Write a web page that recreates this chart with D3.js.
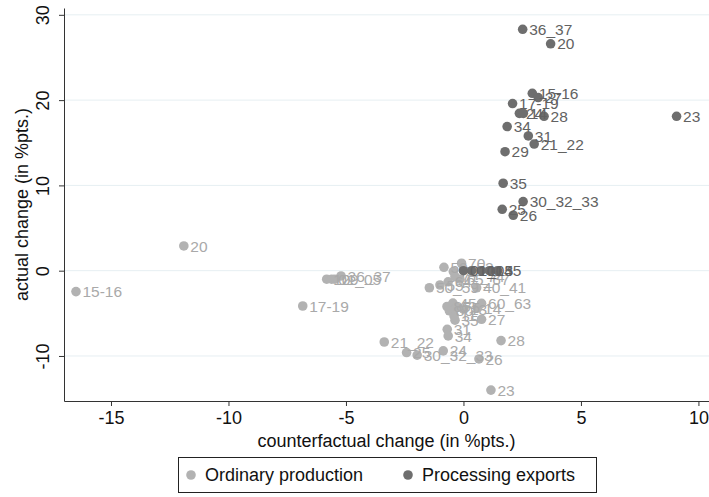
<!DOCTYPE html>
<html>
<head>
<meta charset="utf-8">
<script src="https://cdn.jsdelivr.net/npm/d3@7"></script>
<style>
  body { margin: 0; background: #fff; }
  svg text { font-family: "Liberation Sans", Arial, sans-serif; }
</style>
</head>
<body>
<div id="chart"></div>
<script>
// ordinary production (light grey)
const ordLabels = ["15-16", "20", "17-19", "10", "01_05", "29", "36_37", "21_22", "25", "30_32_33",
  "24", "26", "23", "28", "31", "34", "27", "60_63", "40_41", "70",
  "50_52", "72", "65_67", "50_59", "55", "64", "71_74", "45", "85", "80",
  "75", "13", "11", "35", "14"];
const ordX = [-16.49, -11.9, -6.84, -5.82, -5.61, -5.47, -5.21, -3.37, -2.42, -1.97,
  -0.86, 0.66, 1.17, 1.6, -0.69, -0.65, 0.77, 0.77, 0.56, -0.08,
  -0.83, -0.43, -0.15, -1.45, -1.0, -0.65, -0.36, -0.45, -0.7, -0.6,
  -0.3, 0.0, -0.4, -0.36, 0.6];
const ordY = [-2.45, 2.9, -4.14, -1.0, -1.0, -1.0, -0.62, -8.36, -9.6, -9.9,
  -9.4, -10.35, -14.0, -8.2, -6.87, -7.65, -5.7, -3.83, -2.0, 0.87,
  0.4, -0.1, -1.0, -2.0, -1.68, -1.3, -0.7, -3.8, -4.2, -4.7,
  -4.3, -4.5, -5.3, -5.8, -4.4];

// processing exports (dark grey)
const procLabels = ["36_37", "20", "15-16", "27", "17-19", "24", "14", "28", "23", "34",
  "31", "21_22", "29", "35", "30_32_33", "25", "26", "01_05", "10", "11", "13", "45"];
const procX = [2.52, 3.71, 2.93, 3.18, 2.09, 2.38, 2.55, 3.43, 9.07, 1.86,
  2.76, 3.01, 1.77, 1.69, 2.54, 1.65, 2.12, 0.0, 0.35, 0.75, 1.1, 1.45];
const procY = [28.3, 26.6, 20.8, 20.3, 19.6, 18.45, 18.45, 18.1, 18.1, 16.9,
  15.8, 14.85, 13.95, 10.25, 8.1, 7.2, 6.5, 0.0, 0.0, 0.0, 0.0, 0.0];

const xTicks = [-15, -10, -5, 0, 5, 10];
const yTicks = [-10, 0, 10, 20, 30];
const seriesNames = ["Ordinary production", "Processing exports"];
const colors = ["#b2b2b2", "#6e6e6e"];
const labelColors = ["#a9a9a9", "#626262"];

var width = 709, height = 497;
var plot = { left: 64, right: 709, top: 8, bottom: 401 };

var svg = d3.select("#chart").append("svg")
  .attr("width", width)
  .attr("height", height);

var x = d3.scaleLinear().domain([-17, 10.45]).range([plot.left, plot.right]);
var y = d3.scaleLinear().domain([-15.28, 30.8]).range([plot.bottom, plot.top]);

// horizontal grid
svg.append("g")
  .selectAll("line")
  .data(yTicks)
  .enter().append("line")
  .attr("x1", plot.left).attr("x2", plot.right)
  .attr("y1", d => y(d)).attr("y2", d => y(d))
  .attr("stroke", "#e6eff2")
  .attr("stroke-width", 1);

// axes (hyphen minus like the original)
var xAxis = svg.append("g")
  .attr("transform", `translate(0,${plot.bottom})`)
  .call(d3.axisBottom(x).tickValues(xTicks).tickFormat(d => String(d))
    .tickSize(5).tickPadding(5).tickSizeOuter(0));
xAxis.selectAll("text").attr("font-size", 18).attr("fill", "#111");

var yAxis = svg.append("g")
  .attr("transform", `translate(${plot.left},0)`)
  .call(d3.axisLeft(y).tickValues(yTicks).tickFormat(d => String(d))
    .tickSize(5).tickSizeOuter(0));
yAxis.selectAll("text")
  .attr("font-size", 18).attr("fill", "#111")
  .attr("text-anchor", "middle")
  .attr("x", 0).attr("y", 0)
  .attr("dy", 0)
  .attr("transform", "translate(-15,0) rotate(-90)");

[xAxis, yAxis].forEach(a => {
  a.select(".domain").attr("stroke", "#333");
  a.selectAll(".tick line").attr("stroke", "#333");
});

// axis titles
svg.append("text")
  .attr("x", (plot.left + plot.right) / 2)
  .attr("y", 447)
  .attr("text-anchor", "middle")
  .attr("font-size", 18)
  .attr("fill", "#111")
  .text("counterfactual change (in %pts.)");

svg.append("text")
  .attr("transform", `translate(28,${(plot.top + plot.bottom) / 2}) rotate(-90)`)
  .attr("text-anchor", "middle")
  .attr("font-size", 18)
  .attr("fill", "#111")
  .text("actual change (in %pts.)");

// scatter series with marker labels
function drawSeries(labels, xs, ys, i) {
  var pts = labels.map((l, k) => ({ label: l, x: xs[k], y: ys[k] }));
  var g = svg.append("g");
  g.selectAll("circle")
    .data(pts)
    .enter().append("circle")
    .attr("cx", d => x(d.x))
    .attr("cy", d => y(d.y))
    .attr("r", 4.8)
    .attr("fill", colors[i]);
  g.selectAll("text")
    .data(pts)
    .enter().append("text")
    .attr("x", d => x(d.x) + 6.5)
    .attr("y", d => y(d.y))
    .attr("dy", "0.36em")
    .attr("font-size", 15.5)
    .attr("fill", labelColors[i])
    .text(d => d.label);
}
drawSeries(ordLabels, ordX, ordY, 0);
drawSeries(procLabels, procX, procY, 1);

// legend
var leg = svg.append("g");
leg.append("rect")
  .attr("x", 178.5).attr("y", 457.5)
  .attr("width", 418).attr("height", 35)
  .attr("fill", "#fff")
  .attr("stroke", "#222");
var legX = [191, 408];
seriesNames.forEach((s, i) => {
  leg.append("circle")
    .attr("cx", legX[i]).attr("cy", 475)
    .attr("r", 4.8)
    .attr("fill", colors[i]);
  leg.append("text")
    .attr("x", legX[i] + 14).attr("y", 475)
    .attr("dy", "0.36em")
    .attr("font-size", 18)
    .attr("fill", "#111")
    .text(s);
});
</script>
</body>
</html>
